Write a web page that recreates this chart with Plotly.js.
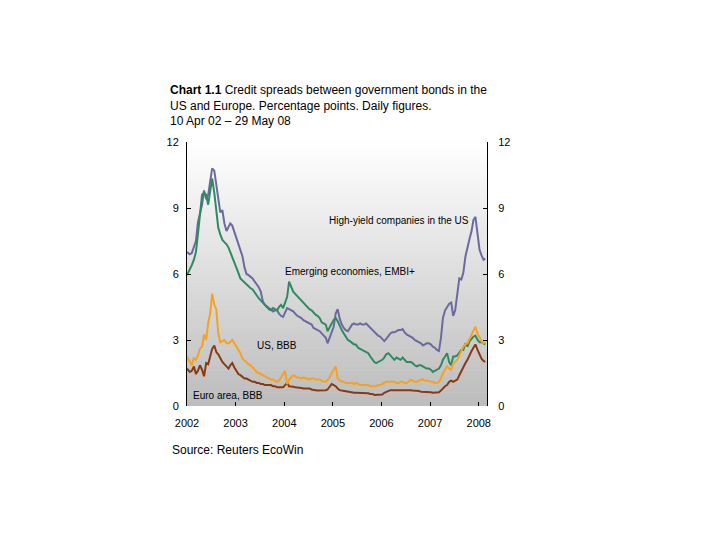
<!DOCTYPE html>
<html>
<head>
<meta charset="utf-8">
<script src="https://cdn.plot.ly/plotly-3.0.1.min.js"></script>
<style>html,body{margin:0;padding:0;background:#fff;}#chart{width:720px;height:540px;}</style>
</head>
<body>
<div id="chart"></div>
<script>
var dates = [
 "2002-04-10","2002-05-01","2002-05-16","2002-06-01","2002-06-16","2002-07-01","2002-07-16","2002-08-01","2002-08-16","2002-09-01","2002-09-16","2002-10-01","2002-10-16","2002-11-01","2002-11-16","2002-12-01","2002-12-16",
 "2003-01-01","2003-01-16","2003-02-01","2003-02-16","2003-03-01","2003-03-16","2003-04-01","2003-04-16","2003-05-01","2003-05-16","2003-06-01","2003-06-16","2003-07-01","2003-07-16","2003-08-01","2003-08-16","2003-09-01","2003-09-16","2003-10-01","2003-10-16","2003-11-01","2003-11-16","2003-12-01","2003-12-16",
 "2004-01-01","2004-01-16","2004-02-01","2004-02-16","2004-03-01","2004-03-16","2004-04-01","2004-04-16","2004-05-01","2004-05-16","2004-06-01","2004-06-16","2004-07-01","2004-07-16","2004-08-01","2004-08-16","2004-09-01","2004-09-16","2004-10-01","2004-10-16","2004-11-01","2004-11-16","2004-12-01","2004-12-16",
 "2005-01-01","2005-01-16","2005-02-01","2005-02-16","2005-03-01","2005-03-16","2005-04-01","2005-04-16","2005-05-01","2005-05-16","2005-06-01","2005-06-16","2005-07-01","2005-07-16","2005-08-01","2005-08-16","2005-09-01","2005-09-16","2005-10-01","2005-10-16","2005-11-01","2005-11-16","2005-12-01","2005-12-16",
 "2006-01-01","2006-01-16","2006-02-01","2006-02-16","2006-03-01","2006-03-16","2006-04-01","2006-04-16","2006-05-01","2006-05-16","2006-06-01","2006-06-16","2006-07-01","2006-07-16","2006-08-01","2006-08-16","2006-09-01","2006-09-16","2006-10-01","2006-10-16","2006-11-01","2006-11-16","2006-12-01","2006-12-16",
 "2007-01-01","2007-01-16","2007-02-01","2007-02-16","2007-03-01","2007-03-16","2007-04-01","2007-04-16","2007-05-01","2007-05-16","2007-06-01","2007-06-16","2007-07-01","2007-07-16","2007-08-01","2007-08-16","2007-09-01","2007-09-16","2007-10-01","2007-10-16","2007-11-01","2007-11-16","2007-12-01","2007-12-16",
 "2008-01-01","2008-01-16","2008-02-01","2008-02-16","2008-03-01","2008-03-16","2008-04-01","2008-04-16","2008-05-01","2008-05-16","2008-05-29"
];

var highYieldUS = [
 7.0,6.9,6.95,7.2,7.5,8.35,8.8,9.15,9.8,9.4,9.6,10.2,10.8,10.7,10.1,9.3,8.8,
 8.9,8.3,7.95,8.15,8.3,8.2,7.9,7.6,7.3,7.1,6.8,6.3,6.0,5.95,5.85,5.8,5.65,5.55,5.4,5.2,4.75,4.6,4.5,4.45,
 4.4,4.3,4.35,4.35,4.2,4.1,4.05,4.25,4.45,4.4,4.35,4.3,4.2,4.1,4.05,4.0,3.9,3.85,3.8,3.75,3.7,3.55,3.5,3.45,
 3.4,3.3,3.2,3.1,2.85,3.1,3.35,3.6,4.2,4.4,3.95,3.7,3.55,3.45,3.4,3.55,3.7,3.75,3.7,3.7,3.75,3.7,3.7,3.75,
 3.65,3.6,3.5,3.4,3.3,3.2,3.15,3.05,2.95,3.05,3.2,3.3,3.35,3.35,3.4,3.45,3.45,3.5,3.35,3.25,3.2,3.15,3.1,3.0,
 2.95,2.9,2.85,2.75,2.8,2.85,2.85,2.8,2.7,2.65,2.55,2.5,3.1,4.0,4.35,4.5,4.65,4.7,4.1,4.35,5.2,5.8,5.75,6.05,
 6.8,7.25,7.6,7.95,8.45,8.6,7.9,7.1,6.85,6.65,6.7
];

var emergingEMBI = [
 5.95,6.2,6.4,6.65,7.0,7.8,8.7,9.6,9.7,9.6,9.15,9.75,10.35,9.7,8.9,8.1,7.8,
 7.55,7.45,7.35,7.2,7.0,6.8,6.6,6.35,6.05,5.8,5.7,5.6,5.5,5.45,5.35,5.3,5.15,5.0,4.9,4.8,4.7,4.6,4.5,4.4,
 4.35,4.45,4.4,4.35,4.5,4.6,4.45,4.7,4.95,5.65,5.4,5.2,5.1,5.0,4.9,4.8,4.7,4.6,4.5,4.4,4.35,4.25,4.15,4.1,
 4.0,3.8,3.75,3.7,3.4,3.6,3.75,3.9,4.0,3.85,3.6,3.45,3.3,3.15,3.0,2.95,2.85,2.8,2.8,2.65,2.6,2.55,2.5,2.45,
 2.4,2.25,2.1,2.0,1.95,2.0,2.05,2.1,2.2,2.35,2.4,2.3,2.2,2.1,2.2,2.15,2.1,2.2,2.1,2.0,2.0,2.0,1.95,1.85,
 1.8,1.85,1.85,1.8,1.75,1.7,1.7,1.65,1.55,1.6,1.65,1.7,1.85,2.1,2.25,2.4,2.0,1.85,2.25,2.25,2.3,2.45,2.55,2.55,
 2.85,2.7,2.95,3.05,3.15,3.2,3.0,2.9,2.9,2.85,2.8
];

var usBBB = [
 2.25,2.0,1.85,2.2,2.1,2.3,2.6,2.7,3.25,3.0,3.75,4.2,5.1,4.6,4.4,3.3,2.9,
 2.95,3.0,2.85,2.85,2.9,3.0,2.85,2.7,2.55,2.4,2.15,2.05,1.95,1.9,1.85,1.75,1.65,1.55,1.5,1.45,1.4,1.35,1.3,1.25,
 1.2,1.2,1.15,1.1,1.15,1.3,1.4,1.6,1.0,1.2,1.3,1.4,1.35,1.3,1.3,1.25,1.3,1.25,1.25,1.2,1.25,1.25,1.2,1.2,
 1.2,1.15,1.1,1.1,1.2,1.3,1.5,1.65,1.8,1.25,1.15,1.1,1.1,1.05,1.05,1.05,1.05,1.0,1.05,1.0,0.95,0.95,0.95,0.95,
 0.95,0.9,0.9,0.9,0.9,0.95,0.95,1.0,1.05,1.1,1.1,1.1,1.1,1.1,1.05,1.05,1.1,1.1,1.05,1.05,1.1,1.2,1.15,1.1,
 1.1,1.15,1.2,1.2,1.15,1.15,1.15,1.1,1.1,1.05,1.05,1.1,1.25,1.5,1.65,1.8,1.7,1.65,1.95,2.0,2.1,2.3,2.45,2.7,
 2.8,2.85,3.05,3.25,3.45,3.6,3.3,3.1,2.95,2.85,2.9
];

var euroBBB = [
 1.7,1.55,1.6,1.8,1.45,1.6,1.85,1.65,1.35,1.95,1.9,2.25,2.6,2.75,2.45,2.35,2.15,
 2.0,1.9,1.8,1.7,1.85,1.95,1.75,1.6,1.45,1.4,1.3,1.25,1.25,1.2,1.15,1.1,1.1,1.05,1.05,1.0,1.0,0.95,0.95,0.95,
 0.95,0.9,0.9,0.85,0.85,0.85,0.85,0.95,1.05,0.9,0.9,0.88,0.85,0.85,0.85,0.82,0.8,0.8,0.8,0.8,0.75,0.75,0.72,0.7,
 0.7,0.7,0.7,0.72,0.75,0.85,1.0,0.95,0.9,0.8,0.72,0.7,0.68,0.65,0.65,0.62,0.62,0.6,0.6,0.6,0.6,0.6,0.6,0.58,
 0.58,0.55,0.55,0.5,0.5,0.5,0.5,0.52,0.6,0.65,0.7,0.72,0.72,0.72,0.75,0.75,0.75,0.75,0.72,0.72,0.72,0.72,0.7,0.7,
 0.68,0.68,0.65,0.65,0.65,0.62,0.62,0.62,0.6,0.6,0.6,0.62,0.7,0.8,0.9,0.95,1.1,1.15,1.1,1.15,1.2,1.4,1.6,1.8,
 1.95,2.1,2.35,2.5,2.65,2.8,2.55,2.3,2.15,2.05,2.0
];

var yearTickVals = ["2002-04-10","2003-04-10","2004-04-10","2005-04-10","2006-04-10","2007-04-10","2008-04-10"];
var yearTickText = ["2002","2003","2004","2005","2006","2007","2008"];
var yTickVals = [0,3,6,9,12];

var FONT = "Liberation Sans, Arial, Helvetica, sans-serif";

var traces = [
  {x: dates, y: highYieldUS, type: "scatter", mode: "lines", name: "High-yield companies in the US",
   line: {color: "#6b6a9f", width: 2}},
  {x: dates, y: emergingEMBI, type: "scatter", mode: "lines", name: "Emerging economies, EMBI+",
   line: {color: "#2f8a63", width: 2}},
  {x: dates, y: euroBBB, type: "scatter", mode: "lines", name: "Euro area, BBB",
   line: {color: "#8a3a12", width: 2}},
  {x: dates, y: usBBB, type: "scatter", mode: "lines", name: "US, BBB",
   line: {color: "#f7a21e", width: 2}},
  {x: [], y: [], yaxis: "y2", type: "scatter", mode: "lines", showlegend: false, hoverinfo: "skip"}
];

// vertical grey gradient behind the plot area (styling only)
var shapes = [];
var nBands = 60;
for (var i = 0; i < nBands; i++) {
  var f = (i + 0.5) / nBands; // 0 bottom -> 1 top
  var g = Math.round(188 + (255 - 188) * f);
  shapes.push({type: "rect", xref: "x domain", yref: "y domain", x0: 0, x1: 1,
    y0: i / nBands, y1: (i + 1) / nBands + 0.002, line: {width: 0},
    fillcolor: "rgb(" + g + "," + g + "," + g + ")", layer: "below"});
}

var annFont = {family: FONT, size: 10, color: "#000"};
var layout = {
  width: 720, height: 540,
  paper_bgcolor: "#ffffff", plot_bgcolor: "rgba(0,0,0,0)",
  margin: {l: 187, r: 233, t: 142, b: 134, pad: 0},
  showlegend: false,
  font: {family: FONT, size: 11, color: "#000"},
  title: {
    text: "<b>Chart 1.1</b> Credit spreads between government bonds in the<br>US and Europe. Percentage points. Daily figures.<br>10 Apr 02 \u2013 29 May 08",
    font: {family: FONT, size: 12, color: "#000"},
    xref: "container", yref: "container", x: 170 / 720, xanchor: "left",
    y: 1 - 94 / 540, yanchor: "top"
  },
  xaxis: {
    type: "date", range: ["2002-04-10", "2008-06-11"],
    tickmode: "array", tickvals: yearTickVals, ticktext: yearTickText,
    ticks: "inside", ticklen: 4, tickcolor: "#000", tickwidth: 1,
    showline: false, showgrid: false, zeroline: false, ticklabelstandoff: 9,
    tickfont: {family: FONT, size: 11, color: "#000"}
  },
  yaxis: {
    range: [0, 12], tickmode: "array", tickvals: yTickVals,
    ticks: "inside", ticklen: 4, tickcolor: "#000",
    showline: true, linecolor: "#000", linewidth: 1, ticklabelstandoff: 5,
    showgrid: false, zeroline: false,
    tickfont: {family: FONT, size: 11, color: "#000"}
  },
  yaxis2: {
    range: [0, 12], overlaying: "y", side: "right", tickmode: "array", tickvals: yTickVals,
    ticks: "inside", ticklen: 4, tickcolor: "#000",
    showline: true, linecolor: "#000", linewidth: 1, ticklabelstandoff: 8,
    showgrid: false, zeroline: false,
    tickfont: {family: FONT, size: 11, color: "#000"}
  },
  shapes: shapes,
  annotations: [
    {text: "High-yield companies in the US", xref: "paper", yref: "paper", x: 0.4667, y: 0.7008,
     xanchor: "left", yanchor: "middle", showarrow: false, font: annFont},
    {text: "Emerging economies, EMBI+", xref: "paper", yref: "paper", x: 0.32, y: 0.5076,
     xanchor: "left", yanchor: "middle", showarrow: false, font: annFont},
    {text: "US, BBB", xref: "paper", yref: "paper", x: 0.2267, y: 0.231,
     xanchor: "left", yanchor: "middle", showarrow: false, font: annFont},
    {text: "Euro area, BBB", xref: "paper", yref: "paper", x: 0.0133, y: 0.0379,
     xanchor: "left", yanchor: "middle", showarrow: false, font: annFont},
    {text: "Source: Reuters EcoWin", xref: "paper", yref: "paper", x: -0.0567, y: -0.1667,
     xanchor: "left", yanchor: "middle", showarrow: false, font: {family: FONT, size: 12, color: "#000"}}
  ]
};

Plotly.newPlot("chart", traces, layout, {displayModeBar: false, staticPlot: true});
</script>
</body>
</html>
